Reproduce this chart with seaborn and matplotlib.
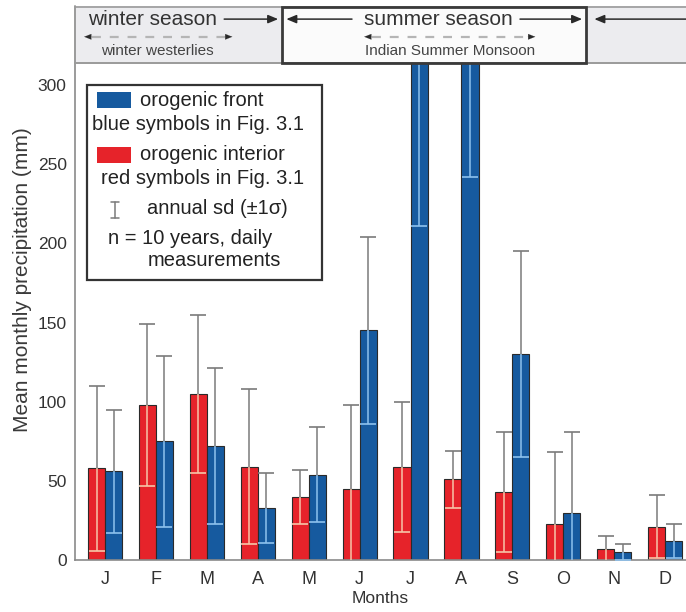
import matplotlib
matplotlib.use("Agg")
import matplotlib.pyplot as plt
import seaborn as sns
import pandas as pd
import numpy as np
from matplotlib.patches import Rectangle

# ---------------- data ----------------
months = ["Jan", "Feb", "Mar", "Apr", "May", "Jun", "Jul", "Aug", "Sep", "Oct", "Nov", "Dec"]
month_labels = ["J", "F", "M", "A", "M", "J", "J", "A", "S", "O", "N", "D"]
interior_mean = [58, 98, 105, 59, 40, 45, 59, 51, 43, 23, 7, 21]
interior_sd = [52, 51, 50, 49, 17, 53, 41, 18, 38, 45, 8, 20]
front_mean = [56, 75, 72, 33, 54, 145, 360, 340, 130, 30, 5, 12]
front_sd = [39, 54, 49, 22, 30, 59, 149, 98, 65, 51, 5, 11]
y_ticks = [0, 50, 100, 150, 200, 250, 300]

RED = "#e6232a"
BLUE = "#165a9f"
LIGHT_RED = "#f6c6a8"
LIGHT_BLUE = "#8ec2ee"
GRAY = "#7a7a7a"

df = pd.DataFrame({
    "month": months * 2,
    "value": interior_mean + front_mean,
    "region": ["interior"] * 12 + ["front"] * 12,
})

sns.set_style("white")
plt.rcParams["font.family"] = ["Liberation Sans", "DejaVu Sans"]

W, H = 686, 612
fig = plt.figure(figsize=(W / 100, H / 100), dpi=100)
AX_L, AX_R, AX_T, AX_B = 75, 686, 63, 560
ax = fig.add_axes([AX_L / W, 1 - AX_B / H, (AX_R - AX_L) / W, (AX_B - AX_T) / H])

sns.barplot(data=df, x="month", y="value", hue="region", order=months,
            hue_order=["interior", "front"],
            palette={"interior": RED, "front": BLUE}, saturation=1,
            width=0.67, edgecolor="#2a2a2a", linewidth=0.8,
            errorbar=None, legend=False, ax=ax)

for cont, means, sds, lowc in zip(ax.containers,
                                  [interior_mean, front_mean],
                                  [interior_sd, front_sd],
                                  [LIGHT_RED, LIGHT_BLUE]):
    xs = np.array([b.get_x() + b.get_width() / 2 for b in cont])
    m = np.array(means, dtype=float)
    s = np.array(sds, dtype=float)
    ax.vlines(xs, m, m + s, colors=GRAY, lw=1.1, zorder=3)
    ax.plot(xs, m + s, ls="none", marker="_", ms=11, mew=1.2, color=GRAY, zorder=3)
    ax.vlines(xs, m - s, m, colors=lowc, lw=1.1, zorder=3)
    ax.plot(xs, m - s, ls="none", marker="_", ms=11, mew=1.2, color=lowc, zorder=3)

XL = (-0.59, 11.41)
ax.set_xlim(*XL)
ax.set_ylim(0, 313.9)
ax.set_yticks(y_ticks)
ax.set_xticks(range(12))
ax.set_xticklabels(month_labels)
ax.tick_params(axis="x", length=0, labelsize=13, pad=8, colors="#333333")
ax.tick_params(axis="y", length=4, width=1, color="#999999", labelsize=12.5,
               labelcolor="#333333", pad=2)
ax.set_xlabel("Months", fontsize=12.5, color="#333333", labelpad=2)
ax.set_ylabel("Mean monthly precipitation (mm)", fontsize=15, color="#3a3a3a")
ax.yaxis.set_label_coords((32 - AX_L) / (AX_R - AX_L), (AX_B - 280) / (AX_B - AX_T))
for sp in ["top", "right"]:
    ax.spines[sp].set_visible(False)
for sp in ["left", "bottom"]:
    ax.spines[sp].set_color("#8a8a8a")
    ax.spines[sp].set_linewidth(1.2)

# ---------------- legend box ----------------
def axp(px, py):
    return ((px - AX_L) / (AX_R - AX_L), (AX_B - py) / (AX_B - AX_T))

def axw(pw):
    return pw / (AX_R - AX_L)

def axh(ph):
    return ph / (AX_B - AX_T)

T = ax.transAxes
ax.add_patch(Rectangle(axp(87, 280), axw(235), axh(195), transform=T,
                       facecolor="white", edgecolor="#333333", lw=1.6, zorder=6))
ax.add_patch(Rectangle(axp(97, 108), axw(34), axh(16), transform=T,
                       facecolor=BLUE, edgecolor="none", zorder=7))
ax.add_patch(Rectangle(axp(97, 163), axw(34), axh(16), transform=T,
                       facecolor=RED, edgecolor="none", zorder=7))
LFS = 14.5
def ltext(px, py, s):
    ax.text(*axp(px, py), s, transform=T, ha="left", va="center",
            fontsize=LFS, color="#222222", zorder=8)

ltext(140, 100, "orogenic front")
ltext(92, 124, "blue symbols in Fig. 3.1")
ltext(140, 154, "orogenic interior")
ltext(101, 178, "red symbols in Fig. 3.1")
ltext(147, 208, "annual sd (\u00b11\u03c3)")
ltext(108, 239, "n = 10 years, daily")
ltext(148, 261, "measurements")
# errorbar legend symbol
x0, y0 = axp(115, 218)
x1, y1 = axp(115, 202)
ax.plot([x0, x0], [y0, y1], transform=T, color=GRAY, lw=1.1, zorder=8)
ax.plot([x0 - axw(4), x0 + axw(4)], [y0, y0], transform=T, color=GRAY, lw=1.1, zorder=8)
ax.plot([x0 - axw(4), x0 + axw(4)], [y1, y1], transform=T, color=GRAY, lw=1.1, zorder=8)

# ---------------- season header ----------------
HT, HB = 6, 63
hax = fig.add_axes([AX_L / W, 1 - HB / H, (AX_R - AX_L) / W, (HB - HT) / H])
hax.set_xlim(*XL)
hax.set_ylim(0, 1)
hax.axis("off")

S0, S1 = 3.48, 9.45
hax.add_patch(Rectangle((XL[0], 0), S0 - XL[0], 1, facecolor="#ececef", edgecolor="none"))
hax.add_patch(Rectangle((S1, 0), XL[1] - S1, 1, facecolor="#ececef", edgecolor="none"))
hax.add_patch(Rectangle((S0, 0), S1 - S0, 1, facecolor="#fbfbfb", edgecolor="none"))
hax.plot([XL[0], XL[1]], [0.99, 0.99], color="#9a9a9a", lw=1.2, clip_on=False)
hax.plot([XL[0], XL[1]], [0.0, 0.0], color="#9a9a9a", lw=1.4, clip_on=False)
hax.plot([XL[0], XL[0]], [0, 1], color="#9a9a9a", lw=1.4, clip_on=False)
hax.add_patch(Rectangle((S0, 0), S1 - S0, 0.99, facecolor="none",
                        edgecolor="#3a3a3a", lw=2.0, clip_on=False, zorder=5))

def harrow(x_from, x_to, y):
    hax.annotate("", xy=(x_to, y), xytext=(x_from, y),
                 arrowprops=dict(arrowstyle="-|>,head_length=0.6,head_width=0.25",
                                 color="#2a2a2a", lw=1.1, shrinkA=0, shrinkB=0))

def dashed(x_from, x_to, y):
    hax.plot([x_from + 0.15, x_to - 0.15], [y, y], ls=(0, (4, 4)), color="#b5b5b5", lw=1.6)
    for a, b in [(x_from + 0.15, x_from), (x_to - 0.15, x_to)]:
        hax.annotate("", xy=(b, y), xytext=(a, y),
                     arrowprops=dict(arrowstyle="-|>,head_length=0.5,head_width=0.2",
                                     color="#2a2a2a", lw=0.1, shrinkA=0, shrinkB=0))

YT = 0.77
hax.text(0.94, YT, "winter season", ha="center", va="center", fontsize=15, color="#333333")
harrow(2.34, 3.40, YT)
hax.text(6.54, YT, "summer season", ha="center", va="center", fontsize=15, color="#333333")
harrow(4.85, 3.56, YT)
harrow(8.15, 9.37, YT)
harrow(XL[1] + 0.1, 9.61, YT)

dashed(-0.41, 2.50, 0.46)
dashed(5.09, 8.45, 0.46)
NARROW = ["Liberation Sans Narrow", "Liberation Sans", "DejaVu Sans"]
hax.text(1.02, 0.21, "winter westerlies", ha="center", va="center", fontsize=11,
         family=NARROW, color="#444444")
hax.text(6.78, 0.21, "Indian Summer Monsoon", ha="center", va="center", fontsize=11,
         family=NARROW, color="#444444")

fig.savefig("out.png", dpi=100)
